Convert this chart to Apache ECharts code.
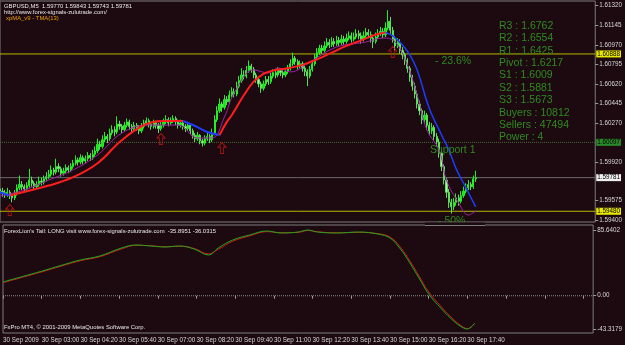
<!DOCTYPE html>
<html><head><meta charset="utf-8">
<script src="https://cdn.jsdelivr.net/npm/echarts@6/dist/echarts.min.js"></script>
<style>html,body{margin:0;padding:0;background:#1c0a10;}#c{width:625px;height:345px;}</style>
</head><body><div id="c"></div>
<script>
const timeLabels = ['30 Sep 2009','30 Sep 03:00','30 Sep 04:20','30 Sep 05:40','30 Sep 07:00','30 Sep 08:20','30 Sep 09:40','30 Sep 11:00','30 Sep 12:20','30 Sep 13:40','30 Sep 15:00','30 Sep 16:20','30 Sep 17:40'];
const priceTicks = [1.61320,1.61145,1.60970,1.60795,1.60620,1.60445,1.60270,1.59920,1.59575,1.59400];
const levelValues = [1.60888,1.60097,1.59781,1.59480];
const oscTicks = [85.6402, 0, -43.3179];
const oscTickLabels = ['85.6402','0.00','-43.3179'];
const infoLines = ['R3 : 1.6762','R2 : 1.6554','R1 : 1.6425','Pivot : 1.6217','S1 : 1.6009','S2 : 1.5881','S3 : 1.5673','Buyers : 10812','Sellers : 47494','Power : 4'];
// [open, close, low, high]
const candles = [
[1.59680,1.59660,1.59630,1.59710],[1.59660,1.59645,1.59610,1.59690],[1.59645,1.59630,1.59600,1.59670],[1.59630,1.59650,1.59610,1.59690],
[1.59650,1.59620,1.59590,1.59670],[1.59620,1.59600,1.59560,1.59640],[1.59600,1.59640,1.59580,1.59670],[1.59640,1.59690,1.59620,1.59720],
[1.59690,1.59720,1.59670,1.59800],[1.59720,1.59700,1.59670,1.59750],[1.59700,1.59680,1.59650,1.59720],[1.59680,1.59710,1.59660,1.59740],
[1.59710,1.59760,1.59690,1.59860],[1.59760,1.59730,1.59700,1.59790],[1.59730,1.59700,1.59670,1.59750],[1.59700,1.59720,1.59680,1.59750],
[1.59720,1.59750,1.59700,1.59790],[1.59750,1.59740,1.59710,1.59780],[1.59740,1.59770,1.59720,1.59800],[1.59770,1.59790,1.59750,1.59830],
[1.59790,1.59810,1.59770,1.59850],[1.59810,1.59850,1.59790,1.59890],[1.59850,1.59830,1.59800,1.59870],[1.59830,1.59880,1.59810,1.59950],
[1.59880,1.59860,1.59830,1.59910],[1.59860,1.59820,1.59790,1.59880],[1.59820,1.59840,1.59800,1.59870],[1.59840,1.59870,1.59820,1.59900],
[1.59870,1.59850,1.59820,1.59890],[1.59850,1.59880,1.59830,1.59910],[1.59880,1.59910,1.59860,1.59940],[1.59910,1.59940,1.59890,1.59980],
[1.59940,1.59920,1.59890,1.59960],[1.59920,1.59960,1.59900,1.59990],[1.59960,1.59930,1.59900,1.59980],[1.59930,1.59950,1.59910,1.59980],
[1.59950,1.59980,1.59930,1.60010],[1.59980,1.59960,1.59930,1.60000],[1.59960,1.59990,1.59940,1.60030],[1.59990,1.60020,1.59970,1.60060],
[1.60020,1.60080,1.60000,1.60130],[1.60080,1.60060,1.60030,1.60110],[1.60060,1.60120,1.60040,1.60160],[1.60120,1.60150,1.60100,1.60190],
[1.60150,1.60130,1.60090,1.60170],[1.60130,1.60180,1.60110,1.60220],[1.60180,1.60210,1.60160,1.60250],[1.60210,1.60190,1.60150,1.60240],
[1.60190,1.60260,1.60170,1.60330],[1.60260,1.60240,1.60210,1.60290],[1.60240,1.60210,1.60180,1.60260],[1.60210,1.60250,1.60190,1.60280],
[1.60250,1.60280,1.60230,1.60310],[1.60280,1.60240,1.60210,1.60300],[1.60240,1.60220,1.60190,1.60260],[1.60220,1.60250,1.60200,1.60280],
[1.60250,1.60230,1.60200,1.60270],[1.60230,1.60200,1.60170,1.60250],[1.60200,1.60240,1.60180,1.60270],[1.60240,1.60270,1.60220,1.60300],
[1.60270,1.60290,1.60250,1.60320],[1.60290,1.60260,1.60230,1.60310],[1.60260,1.60240,1.60210,1.60280],[1.60240,1.60270,1.60220,1.60300],
[1.60270,1.60250,1.60220,1.60290],[1.60250,1.60220,1.60180,1.60270],[1.60220,1.60250,1.60200,1.60280],[1.60250,1.60280,1.60230,1.60310],
[1.60280,1.60300,1.60260,1.60340],[1.60300,1.60270,1.60240,1.60320],[1.60270,1.60290,1.60250,1.60320],[1.60290,1.60310,1.60270,1.60340],
[1.60310,1.60280,1.60250,1.60330],[1.60280,1.60250,1.60220,1.60300],[1.60250,1.60270,1.60230,1.60300],[1.60270,1.60240,1.60210,1.60290],
[1.60240,1.60220,1.60190,1.60260],[1.60220,1.60250,1.60200,1.60280],[1.60250,1.60200,1.60170,1.60260],[1.60200,1.60160,1.60130,1.60220],
[1.60160,1.60130,1.60100,1.60180],[1.60130,1.60160,1.60110,1.60190],[1.60160,1.60110,1.60080,1.60170],[1.60110,1.60090,1.60060,1.60130],
[1.60090,1.60130,1.60070,1.60160],[1.60130,1.60150,1.60110,1.60190],[1.60150,1.60120,1.60090,1.60170],[1.60120,1.60180,1.60100,1.60220],
[1.60180,1.60300,1.60160,1.60340],[1.60300,1.60380,1.60280,1.60420],[1.60380,1.60440,1.60360,1.60490],[1.60440,1.60410,1.60370,1.60460],
[1.60410,1.60480,1.60390,1.60520],[1.60480,1.60460,1.60430,1.60510],[1.60460,1.60520,1.60440,1.60560],[1.60520,1.60550,1.60500,1.60590],
[1.60550,1.60530,1.60500,1.60580],[1.60530,1.60600,1.60510,1.60640],[1.60600,1.60650,1.60580,1.60690],[1.60650,1.60700,1.60630,1.60760],
[1.60700,1.60690,1.60660,1.60740],[1.60690,1.60740,1.60670,1.60780],[1.60740,1.60780,1.60720,1.60830],[1.60780,1.60750,1.60720,1.60800],
[1.60750,1.60700,1.60670,1.60770],[1.60700,1.60660,1.60630,1.60720],[1.60660,1.60620,1.60590,1.60680],[1.60620,1.60580,1.60540,1.60640],
[1.60580,1.60620,1.60560,1.60650],[1.60620,1.60660,1.60600,1.60690],[1.60660,1.60640,1.60610,1.60690],[1.60640,1.60690,1.60620,1.60720],
[1.60690,1.60720,1.60670,1.60750],[1.60720,1.60700,1.60670,1.60740],[1.60700,1.60740,1.60680,1.60770],[1.60740,1.60720,1.60690,1.60760],
[1.60720,1.60700,1.60670,1.60740],[1.60700,1.60730,1.60680,1.60760],[1.60730,1.60760,1.60710,1.60790],[1.60760,1.60800,1.60740,1.60840],
[1.60800,1.60850,1.60780,1.60900],[1.60850,1.60820,1.60790,1.60870],[1.60820,1.60780,1.60750,1.60840],[1.60780,1.60800,1.60760,1.60830],
[1.60800,1.60760,1.60730,1.60820],[1.60760,1.60730,1.60690,1.60780],[1.60730,1.60690,1.60600,1.60750],[1.60690,1.60750,1.60670,1.60780],
[1.60750,1.60800,1.60730,1.60830],[1.60800,1.60860,1.60780,1.60890],[1.60860,1.60900,1.60840,1.60940],[1.60900,1.60940,1.60880,1.60970],
[1.60940,1.60920,1.60890,1.60970],[1.60920,1.60960,1.60900,1.61000],[1.60960,1.60990,1.60940,1.61030],[1.60990,1.60970,1.60940,1.61020],
[1.60970,1.61000,1.60950,1.61040],[1.61000,1.60980,1.60950,1.61030],[1.60980,1.61010,1.60960,1.61050],[1.61010,1.60990,1.60960,1.61040],
[1.60990,1.61020,1.60970,1.61060],[1.61020,1.61000,1.60970,1.61050],[1.61000,1.61030,1.60980,1.61070],[1.61030,1.61050,1.61010,1.61090],
[1.61050,1.61020,1.60990,1.61080],[1.61020,1.61040,1.61000,1.61080],[1.61040,1.61070,1.61020,1.61110],[1.61070,1.61050,1.61020,1.61100],
[1.61050,1.61020,1.60980,1.61080],[1.61020,1.61050,1.61000,1.61090],[1.61050,1.61080,1.61030,1.61120],[1.61080,1.61060,1.61030,1.61110],
[1.61060,1.61030,1.60990,1.61090],[1.61030,1.61000,1.60940,1.61060],[1.61000,1.61040,1.60980,1.61080],[1.61040,1.61070,1.61020,1.61110],
[1.61070,1.61090,1.61050,1.61130],[1.61090,1.61060,1.61030,1.61120],[1.61060,1.61120,1.61040,1.61170],[1.61120,1.61180,1.61100,1.61280],
[1.61180,1.61100,1.61070,1.61220],[1.61100,1.61020,1.60990,1.61130],[1.61020,1.60960,1.60920,1.61050],[1.60960,1.60990,1.60940,1.61030],
[1.60990,1.60920,1.60890,1.61020],[1.60920,1.60880,1.60840,1.60950],[1.60880,1.60830,1.60790,1.60900],[1.60830,1.60760,1.60720,1.60850],
[1.60760,1.60680,1.60640,1.60780],[1.60680,1.60600,1.60560,1.60700],[1.60600,1.60530,1.60490,1.60630],[1.60530,1.60440,1.60400,1.60560],
[1.60440,1.60380,1.60340,1.60470],[1.60380,1.60300,1.60260,1.60400],[1.60300,1.60340,1.60270,1.60380],[1.60340,1.60250,1.60210,1.60360],
[1.60250,1.60200,1.60160,1.60280],[1.60200,1.60230,1.60170,1.60270],[1.60230,1.60150,1.60110,1.60250],[1.60150,1.60100,1.60060,1.60180],
[1.60100,1.60000,1.59960,1.60130],[1.60000,1.59880,1.59840,1.60020],[1.59880,1.59760,1.59720,1.59900],[1.59760,1.59650,1.59600,1.59780],
[1.59650,1.59560,1.59510,1.59680],[1.59560,1.59520,1.59460,1.59590],[1.59520,1.59560,1.59490,1.59600],[1.59560,1.59600,1.59530,1.59640],
[1.59600,1.59570,1.59530,1.59630],[1.59570,1.59620,1.59550,1.59660],[1.59620,1.59660,1.59600,1.59700],[1.59660,1.59690,1.59640,1.59730],
[1.59690,1.59720,1.59670,1.59760],[1.59720,1.59700,1.59670,1.59740],[1.59700,1.59770,1.59680,1.59800],[1.59770,1.59781,1.59743,1.59843]
];
// TMA(13): [barIndex, price] — red rising, blue falling
const tmaBlueA = [[0,1.59650],[2,1.59635],[4,1.59622]];
const tmaRedA = [[4,1.59622],[20,1.59710],[30,1.59785],[40,1.59910],[50,1.60118],[60,1.60261],[68,1.60288],[75,1.60288]];
const tmaBlueB = [[75,1.60288],[80,1.60243],[85,1.60190],[90,1.60163]];
const tmaRedB = [[90,1.60163],[93,1.60280],[95,1.60340],[100,1.60520],[104,1.60640],[108,1.60710],[112,1.60740],[118,1.60760],[124,1.60790],[130,1.60840],[136,1.60900],[142,1.60960],[148,1.61010],[154,1.61060],[158,1.61080]];
const tmaBlueC = [[158,1.61080],[161,1.61049],[165,1.60968],[168,1.60879],[171,1.60745],[176,1.60400],[181,1.60163],[184,1.60029],[187,1.59860],[191,1.59690],[195,1.59519]];
// xpMA_v9
const xpma = [[0,1.59617],[10,1.59671],[20,1.59760],[30,1.59850],[40,1.59984],[50,1.60181],[61,1.60252],[73,1.60252],[81,1.60136],[87,1.60136],[92,1.60324],[96,1.60539],[104,1.60745],[110,1.60718],[114,1.60763],[119,1.60727],[127,1.60816],[138,1.60950],[150,1.60995],[157,1.61031],[162,1.60995],[167,1.60789],[171,1.60521],[175,1.60208],[180,1.60029],[183,1.59760],[188,1.59554],[192,1.59447],[195,1.59483]];
const arrowPoints = [[4,1.59545],[66,1.60181],[91,1.60100],[161,1.60960]];
// ForexLion's Tail
const tailGreen = [[0,17.9],[8,25.0],[16,32.0],[24,39.5],[32,46.6],[40,51.8],[49,62.2],[55,66.1],[61,64.8],[67,63.5],[73,64.8],[79,60.9],[85,53.1],[89,62.2],[95,72.6],[102,79.1],[109,84.3],[115,81.7],[122,83.0],[126,85.6],[130,83.0],[138,81.7],[147,83.0],[155,80.4],[160,75.2],[164,62.2],[168,43.9],[172,23.1],[176,2.3],[181,-16.0],[185,-29.0],[189,-39.4],[192,-43.3],[195,-35.9]];
const tailRed = [[0,17.0],[8,24.0],[16,31.0],[24,38.5],[32,45.6],[40,50.8],[49,61.0],[55,65.6],[61,65.2],[67,63.8],[73,64.5],[79,61.6],[85,54.5],[89,60.5],[95,71.0],[102,78.0],[109,83.5],[115,82.2],[122,82.5],[126,85.0],[130,83.4],[138,82.0],[147,82.6],[155,80.8],[160,76.5],[164,64.5],[168,46.5],[172,25.8],[176,5.0],[181,-13.5],[185,-27.0],[189,-38.0],[192,-42.8],[195,-36.0]];

const NCAT = 245;
const cats = Array.from({length: NCAT}, (_, i) => i);
const BG = '#1c0a10';
const FONT = 'Liberation Sans, Arial, sans-serif';
const chart = echarts.init(document.getElementById('c'));

function txt(x, y, text, fill, size, z) {
  return {type:'text', x:x, y:y, z: z || 10, silent:true,
    style:{text:text, fill:fill, font: size + 'px ' + FONT, textVerticalAlign:'middle', verticalAlign:'middle', textAlign:'left', align:'left'}};
}
const graphics = [
  txt(4, 6, 'GBPUSD,M5  1.59770 1.59843 1.59743 1.59781', '#e8e8e8', 5.9),
  txt(4, 12.5, 'http://www.forex-signals-zulutrade.com/', '#e8e8e8', 5.9),
  txt(6, 18.8, 'xpMA_v9 - TMA(13)', '#f0a000', 5.9),
  txt(435, 61, '- 23.6%', '#2f8a1f', 10.5),
  txt(430, 150, 'Support 1', '#2f8a1f', 10.5),
  txt(438, 221, '- 50%', '#2f8a1f', 10.5, 10),
  {type:'rect', z:11, silent:true, shape:{x:425, y:222.5, width:60, height:6.5}, style:{fill:BG}},
  {type:'line', z:12, silent:true, shape:{x1:425, y1:225.5, x2:485, y2:225.5}, style:{stroke:'#7c7c7c', lineWidth:1}},
  txt(4, 231, "ForexLion's Tail: LONG visit www.forex-signals-zulutrade.com  -35.8951 -36.0315", '#e8e8e8', 5.9),
  txt(4, 327.5, 'FxPro MT4, \u00a9 2001-2009 MetaQuotes Software Corp.', '#e8e8e8', 5.9)
];
infoLines.forEach((t, k) => graphics.push(txt(499, 26 + 12.4 * k, t, '#2f8a1f', 10.5)));

function levelSeries(v, lineColor, type, bg, fg) {
  return {type: 'line', xAxisIndex: 0, yAxisIndex: 0, data: [[0, v], [NCAT - 1, v]], symbol: 'none', silent: true, z: 1,
    lineStyle: {color: lineColor, type: type, width: 1},
    endLabel: {show: true, distance: 1, formatter: v.toFixed(5), backgroundColor: bg, color: fg,
      fontSize: 6.3, fontFamily: FONT, padding: [1, 1, 0, 1]}};
}

const option = {
  backgroundColor: BG,
  animation: false,
  graphic: graphics,
  grid: [
    {left: 0, width: 602, top: 1, height: 221, show: true, borderColor: '#7c7c7c', borderWidth: 1, backgroundColor: 'transparent'},
    {left: 0, width: 602, top: 225, height: 108, show: true, borderColor: '#7c7c7c', borderWidth: 1, backgroundColor: 'transparent'}
  ],
  xAxis: [
    {gridIndex: 0, type: 'category', data: cats, boundaryGap: false, axisLine:{show:false}, axisTick:{show:false}, axisLabel:{show:false}, splitLine:{show:false}},
    {gridIndex: 1, type: 'category', data: cats, boundaryGap: false, axisLine:{show:false},
      axisTick:{show:true, interval: 15, length: 3, lineStyle:{color:'#9a9a9a'}},
      axisLabel:{show:true, interval: 15, align:'left', margin: 4, color:'#d8d8d8', fontSize: 6.3, fontFamily: FONT,
        formatter: (v, idx) => (idx % 16 === 0 && timeLabels[idx / 16]) ? timeLabels[idx / 16] : ''},
      splitLine:{show:false}}
  ],
  yAxis: [
    {gridIndex: 0, type: 'value', position: 'right', min: 1.59384, max: 1.61362,
      axisLine:{show:false}, splitLine:{show:false},
      axisTick:{show:true, customValues: priceTicks, length: 3, lineStyle:{color:'#9a9a9a'}},
      axisLabel:{show:true, customValues: priceTicks, margin: 4, color:'#d8d8d8', fontSize: 6.3, fontFamily: FONT, formatter: v => v.toFixed(5)}},
    {gridIndex: 1, type: 'value', position: 'right', min: -48.528, max: 92.153,
      axisLine:{show:false}, splitLine:{show:false},
      axisTick:{show:true, customValues: oscTicks, length: 3, lineStyle:{color:'#9a9a9a'}},
      axisLabel:{show:true, customValues: oscTicks, margin: 4, color:'#d8d8d8', fontSize: 6.3, fontFamily: FONT,
        formatter: v => oscTickLabels[oscTicks.findIndex(t => Math.abs(t - v) < 1e-6)] || ''}}
  ],
  series: [
    levelSeries(levelValues[0], '#b8b800', 'solid', '#e8e800', '#000'),
    levelSeries(levelValues[1], '#4a6a3a', 'dotted', '#2a8a2a', '#000'),
    levelSeries(levelValues[2], '#6a6a6a', 'solid', '#f0f0f0', '#000'),
    levelSeries(levelValues[3], '#b8b800', 'solid', '#e8e800', '#000'),
    {type: 'candlestick', xAxisIndex: 0, yAxisIndex: 0, data: candles, barWidth: 1.7, clip: true, z: 2,
      itemStyle: {color: '#18e018', color0: '#b0f8a8', borderColor: '#22f022', borderColor0: '#5ae05a', borderWidth: 1}},
    {type: 'line', xAxisIndex: 0, yAxisIndex: 0, data: xpma, smooth: 0.4, symbol: 'none', lineStyle: {color: '#a020a8', width: 1}, z: 3},
    {type: 'line', xAxisIndex: 0, yAxisIndex: 0, data: tmaBlueA, smooth: 0.4, symbol: 'none', lineStyle: {color: '#1e3cff', width: 2}, z: 4},
    {type: 'line', xAxisIndex: 0, yAxisIndex: 0, data: tmaRedA, smooth: 0.4, symbol: 'none', lineStyle: {color: '#ff1e1e', width: 2}, z: 4},
    {type: 'line', xAxisIndex: 0, yAxisIndex: 0, data: tmaBlueB, smooth: 0.4, symbol: 'none', lineStyle: {color: '#1e3cff', width: 2}, z: 4},
    {type: 'line', xAxisIndex: 0, yAxisIndex: 0, data: tmaRedB, smooth: 0.4, symbol: 'none', lineStyle: {color: '#ff1e1e', width: 2}, z: 4},
    {type: 'line', xAxisIndex: 0, yAxisIndex: 0, data: tmaBlueC, smooth: 0.4, symbol: 'none', lineStyle: {color: '#1e3cff', width: 1.5}, z: 4},
    {type: 'scatter', xAxisIndex: 0, yAxisIndex: 0, data: arrowPoints, z: 5,
      symbol: 'path://M5,0 L10,5 L7,5 L7,12 L3,12 L3,5 L0,5 Z', symbolSize: [8, 11], symbolOffset: [0, 6],
      itemStyle: {color: 'rgba(0,0,0,0)', borderColor: '#c81414', borderWidth: 1}},
    {type: 'line', xAxisIndex: 1, yAxisIndex: 1, data: [[0, 0], [NCAT - 1, 0]], symbol: 'none', silent: true,
      lineStyle: {color: '#8a8a8a', type: 'dotted', width: 1}},
    {type: 'line', xAxisIndex: 1, yAxisIndex: 1, data: tailRed, smooth: 0.4, symbol: 'none', lineStyle: {color: '#d01818', width: 1}},
    {type: 'line', xAxisIndex: 1, yAxisIndex: 1, data: tailGreen, smooth: 0.4, symbol: 'none', lineStyle: {color: '#1ea81e', width: 1}}
  ]
};
chart.setOption(option);
</script>
</body></html>
